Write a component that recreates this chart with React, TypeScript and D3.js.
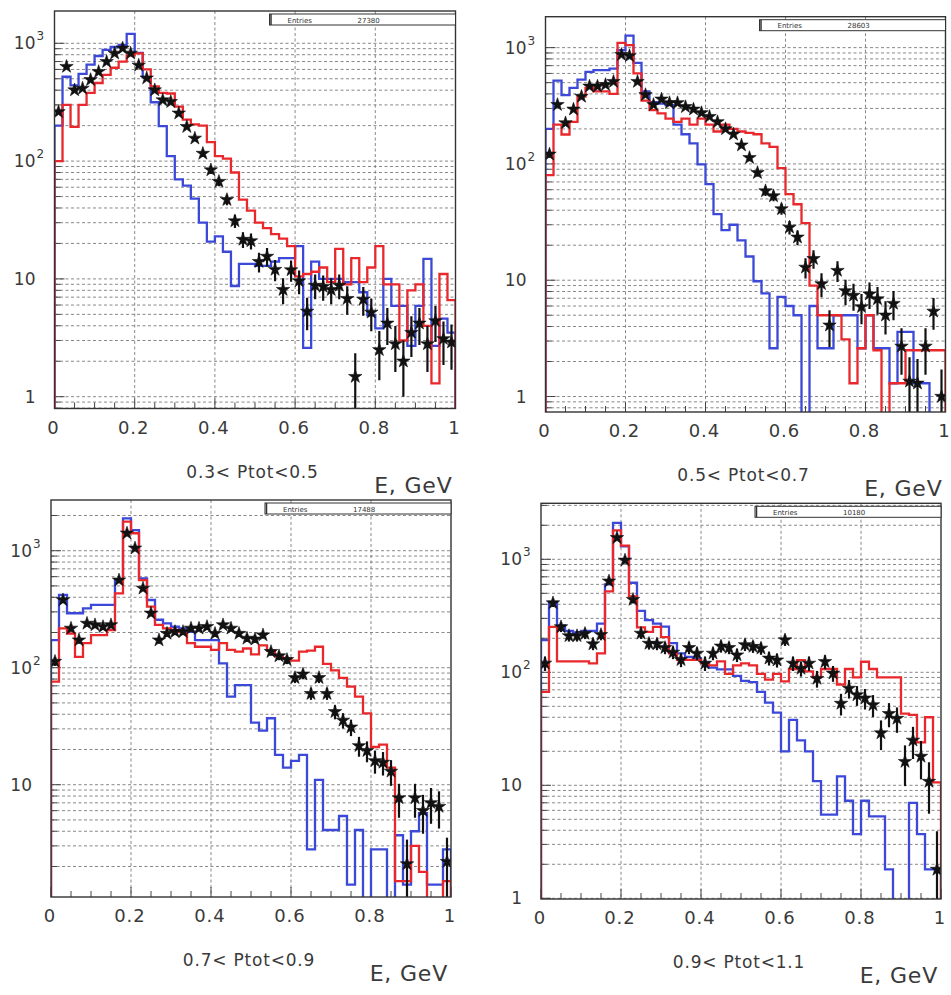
import React from "react";
import * as d3 from "d3";

// ---------------- DATA ----------------
const BIN_WIDTH = 0.02;
const N_BINS = 50;

const PANEL_TITLES = ["0.3< Ptot<0.5", "0.5< Ptot<0.7", "0.7< Ptot<0.9", "0.9< Ptot<1.1"];
const ENTRIES = ["27380", "28603", "17488", "10180"];
const X_TICK_VALUES = [0, 0.2, 0.4, 0.6, 0.8, 1];
const X_TICK_LABELS = ["0", "0.2", "0.4", "0.6", "0.8", "1"];
const Y_DECADES = [1, 10, 100, 1000];
const AXIS_TITLE = "E, GeV";
const ERR_WEIGHT = [0.5, 0.5, 0.8, 2.5];

// Panel 1 : 0.3 < Ptot < 0.5
const P1_BLUE = [200, 520, 440, 550, 660, 780, 880, 930, 970, 1200, 830, 515, 316, 198, 110, 70, 62, 48, 30, 20.7,
  23, 17, 8.7, 13.4, 13.4, 12.9, 12.9, 14, 15, 15, 19, 2.6, 14, 10, 10, 10, 9.4, 9.4, 7.7, 4.9,
  3.8, 10, 5.9, 5.9, 2.7, 5.9, 14.8, 2.7, 4.6, 3.5];
const P1_RED = [100, 300, 195, 300, 380, 460, 540, 620, 700, 790, 820, 600, 430, 380, 375, 290, 225, 205, 200, 145,
  110, 105, 80, 47, 38, 30, 27, 24, 22, 19, 10.5, 11, 11.5, 12.5, 9.4, 18, 9, 15, 9.4, 12.5,
  19, 9, 9, 3, 8, 9, 4, 1.3, 11, 6.6];
const P1_STARS = [262, 634, 401, 414, 490, 573, 698, 822, 907, 822, 650, 506, 401, 330, 319, 255, 196, 156, 116, 84,
  67, 47, 31, 21.6, 21, 14, 15.5, 12, 8.1, 11.9, 9.6, 5.3, 8.8, 8.6, 8.1, 8.8, 6.8, 1.48, 6.7, 5.2,
  2.5, 4.2, 2.8, 2.0, 3.5, 4.2, 2.8, 4.4, 3.1, 2.9];

// Panel 2 : 0.5 < Ptot < 0.7
const P2_BLUE = [200, 520, 390, 450, 530, 620, 640, 640, 660, 950, 1270, 740, 420, 340, 330, 320, 218, 180, 150, 99,
  67, 37, 27, 30, 22, 16, 9.8, 7.7, 2.6, 7.2, 6, 5, 0, 6, 2.6, 2.6, 5, 5, 5, 2.6,
  5, 2.6, 2.6, 1.3, 3.6, 3.6, 1.3, 1.3, 0, 0];
const P2_RED = [80, 218, 179, 230, 380, 450, 420, 420, 400, 1100, 1050, 600, 350, 290, 272, 245, 230, 245, 218, 245,
  218, 190, 218, 200, 190, 185, 180, 150, 140, 92, 55, 45, 31, 9, 5, 5, 5, 3.1, 1.3, 2.6,
  5, 2.5, 0, 1.3, 1.3, 2.5, 2.5, 2.5, 2.5, 2.5];
const P2_STARS = [121, 323, 225, 295, 380, 465, 465, 480, 510, 870, 850, 510, 393, 323, 360, 335, 335, 310, 295, 275,
  255, 230, 200, 180, 145, 113, 84, 58.5, 53, 41, 28.5, 23.4, 12.9, 15.3, 9.3, 4.1, 12.1, 8.1, 7.4, 5.9,
  7.6, 6.9, 5.0, 6.3, 2.7, 1.35, 1.3, 2.7, 5.4, 1.0];

// Panel 3 : 0.7 < Ptot < 0.9
const P3_BLUE = [172, 419, 292, 292, 322, 344, 344, 344, 570, 1890, 1500, 580, 379, 257, 239, 224, 217, 203, 172, 172,
  172, 109, 56.6, 71, 71, 34, 29, 37, 18, 14, 16, 18, 2.8, 11, 4.1, 4.1, 5.4, 1.4, 4.1, 0,
  2.8, 2.8, 0, 3.7, 1.4, 4, 5.7, 1.4, 1.4, 2.8];
const P3_RED = [76, 217, 196, 124, 162, 190, 190, 210, 432, 1770, 1410, 560, 333, 232, 217, 210, 203, 162, 151, 151,
  142, 162, 142, 137, 146, 130, 155, 140, 125, 120, 115, 137, 140, 151, 108, 95, 82, 69, 56.5, 40.7,
  21, 22, 14, 1.5, 1.5, 3, 1.8, 0, 0, 1.5];
const P3_STARS = [113, 379, 217, 172, 239, 232, 224, 232, 560, 1410, 1050, 477, 292, 172, 196, 203, 203, 217, 217, 224,
  196, 232, 217, 196, 178, 175, 190, 137, 126, 117, 82, 88, 60, 82, 60, 42, 35.5, 31, 21.5, 19.5,
  16, 15.5, 13, 7.7, 2.1, 7.7, 6, 7, 6.5, 2.2];

// Panel 4 : 0.9 < Ptot < 1.1
const P4_BLUE = [193, 420, 260, 232, 225, 232, 232, 270, 600, 2100, 1300, 620, 350, 290, 270, 254, 181, 147, 137, 133,
  122, 110, 106, 106, 93, 84, 82, 67, 54, 44, 20, 38, 25, 20, 10.9, 5.5, 5.5, 12, 7.3, 3.7,
  7.3, 5.3, 5.3, 1.8, 0, 0, 7, 3.7, 1.8, 1.8];
const P4_RED = [67, 252, 125, 125, 125, 125, 120, 147, 520, 1800, 1320, 470, 250, 228, 252, 205, 147, 129, 129, 129,
  120, 115, 125, 97, 115, 120, 115, 97, 86, 97, 83, 107, 128, 102, 90, 107, 107, 78, 107, 90,
  124, 107, 90, 90, 90, 43, 42, 24, 40, 10.6];
const P4_STARS = [120, 410, 252, 210, 210, 220, 178, 215, 640, 1550, 980, 440, 221, 180, 178, 165, 150, 129, 165, 147,
  120, 147, 170, 165, 142, 175, 169, 163, 133, 128, 193, 120, 108, 120, 88, 124, 98, 53, 72, 63,
  59, 51.5, 29, 43, 39, 16.2, 25, 18, 10.8, 1.8];

const BLUE = [P1_BLUE, P2_BLUE, P3_BLUE, P4_BLUE];
const RED = [P1_RED, P2_RED, P3_RED, P4_RED];
const STARS = [P1_STARS, P2_STARS, P3_STARS, P4_STARS];

// ---------------- LAYOUT ----------------
const LAYOUT = [
  { left: 54.5, right: 455.5, top: 11, bottom: 408.5, yMin: 0.794, yMax: 1880 },
  { left: 545.5, right: 945.5, top: 16.7, bottom: 412, yMin: 0.736, yMax: 1845 },
  { left: 51, right: 451, top: 500, bottom: 897, yMin: 1.097, yMax: 2713 },
  { left: 541, right: 941, top: 503.3, bottom: 899, yMin: 0.986, yMax: 3130 },
];

const BLUE_COLOR = "#3b48d8";
const RED_COLOR = "#e8282c";
const TEXT_COLOR = "#3a3a3a";
const FONT = "'DejaVu Sans', Arial, sans-serif";

const starPath = d3.symbol().type(d3.symbolStar).size(56)() as string;

function Panel({ idx }: { idx: number }) {
  const L = LAYOUT[idx];
  const x = d3.scaleLinear().domain([0, 1]).range([L.left, L.right]);
  const y = d3.scaleLog().domain([L.yMin, L.yMax]).range([L.bottom, L.top]);
  const yv = (v: number) => (v > 0 ? y(v) : L.bottom + 30);
  const edges = d3.range(N_BINS + 1).map((i) => i * BIN_WIDTH);
  const centers = d3.range(N_BINS).map((i) => (i + 0.5) * BIN_WIDTH);
  const line = d3.line();

  const histPath = (vals: number[]) => {
    const pts: [number, number][] = [[x(0), L.bottom + 30]];
    vals.forEach((v, i) => {
      pts.push([x(edges[i]), yv(v)]);
      pts.push([x(edges[i + 1]), yv(v)]);
    });
    pts.push([x(1), L.bottom + 30]);
    return line(pts) as string;
  };

  const yTicks = y.ticks().filter((t) => t >= L.yMin && t <= L.yMax);
  const xMinor = x.ticks(20);
  const clipId = `clip${idx}`;
  const w = ERR_WEIGHT[idx];

  const boxRight = L.right;
  const boxLeft = L.right - 186;
  const boxTop = L.top + 3;

  return (
    <g>
      <defs>
        <clipPath id={clipId}>
          <rect x={L.left} y={L.top} width={L.right - L.left} height={L.bottom - L.top} />
        </clipPath>
      </defs>
      <rect x={L.left} y={L.top} width={L.right - L.left} height={L.bottom - L.top} fill="#fff" />
      {/* grid */}
      <g stroke="#7a7a7a" strokeWidth={0.9} strokeDasharray="3 2.5">
        {yTicks.map((t, i) => (
          <line key={"h" + i} x1={L.left} x2={L.right} y1={y(t)} y2={y(t)} />
        ))}
        {X_TICK_VALUES.filter((v) => v > 0 && v < 1).map((v, i) => (
          <line key={"v" + i} x1={x(v)} x2={x(v)} y1={L.top} y2={L.bottom} />
        ))}
      </g>
      {/* ticks */}
      <g stroke="#444" strokeWidth={1}>
        {yTicks.map((t, i) => {
          const major = Y_DECADES.includes(t);
          return <line key={"yt" + i} x1={L.left} x2={L.left + (major ? 10 : 6)} y1={y(t)} y2={y(t)} />;
        })}
        {xMinor.map((t, i) => {
          const major = X_TICK_VALUES.some((v) => Math.abs(v - t) < 1e-6);
          return <line key={"xt" + i} x1={x(t)} x2={x(t)} y1={L.bottom} y2={L.bottom - (major ? 10 : 6)} />;
        })}
      </g>
      {/* histograms */}
      <g clipPath={`url(#${clipId})`} fill="none" strokeWidth={2.3} strokeLinejoin="miter">
        <path d={histPath(BLUE[idx])} stroke={BLUE_COLOR} />
        <path d={histPath(RED[idx])} stroke={RED_COLOR} />
        {/* error bars and stars */}
        {STARS[idx].map((v, i) => {
          const err = Math.sqrt(v * w);
          const lo = v - err;
          return (
            <g key={"s" + i}>
              <line
                x1={x(centers[i])}
                x2={x(centers[i])}
                y1={y(v + err)}
                y2={lo > 0 ? y(lo) : L.bottom + 30}
                stroke="#111"
                strokeWidth={2.2}
              />
              <path d={starPath} transform={`translate(${x(centers[i])},${y(v)})`} fill="#111" stroke="#111" strokeWidth={0.6} />
            </g>
          );
        })}
      </g>
      {/* frame */}
      <rect x={L.left} y={L.top} width={L.right - L.left} height={L.bottom - L.top} fill="none" stroke="#333" strokeWidth={1.4} />
      {/* entries box */}
      <rect x={boxLeft} y={boxTop} width={boxRight - boxLeft} height={11} fill="#fff" stroke="#333" strokeWidth={1} />
      <line x1={boxLeft + 1.5} x2={boxLeft + 1.5} y1={boxTop} y2={boxTop + 11} stroke="#333" strokeWidth={1.5} />
      <text x={boxLeft + 18} y={boxTop + 8.5} fontSize={7} fontFamily={FONT} fill="#333">Entries</text>
      <text x={boxLeft + 88} y={boxTop + 8.5} fontSize={7} fontFamily={FONT} fill="#333">{ENTRIES[idx]}</text>
      {/* x tick labels */}
      {X_TICK_VALUES.map((v, i) => (
        <text
          key={"xl" + i}
          x={x(v) - 1}
          y={L.bottom + 25}
          textAnchor="middle"
          fontSize={18}
          letterSpacing={1}
          fontFamily={FONT}
          fill={TEXT_COLOR}
        >
          {X_TICK_LABELS[i]}
        </text>
      ))}
      {/* y tick labels */}
      {Y_DECADES.filter((d) => d >= L.yMin && d <= L.yMax).map((d, i) => {
        const exp = Math.round(Math.log10(d));
        const base = exp === 0 ? "1" : "10";
        const yy = y(d);
        return (
          <g key={"yl" + i} fontFamily={FONT} fill={TEXT_COLOR}>
            <text x={L.left - 19} y={yy + 6} textAnchor="end" fontSize={17}>{base}</text>
            {exp >= 2 && (
              <text x={L.left - 18} y={yy - 3} textAnchor="start" fontSize={12}>{String(exp)}</text>
            )}
          </g>
        );
      })}
      {/* panel title and axis title */}
      <text x={L.left + 198} y={L.bottom + 69} textAnchor="middle" fontSize={17} letterSpacing={0.8} fontFamily={FONT} fill={TEXT_COLOR}>
        {PANEL_TITLES[idx]}
      </text>
      <text x={L.right - 3} y={L.bottom + 84} textAnchor="end" fontSize={22} letterSpacing={0.8} fontFamily={FONT} fill={TEXT_COLOR}>
        {AXIS_TITLE}
      </text>
    </g>
  );
}

export default function App() {
  return (
    <svg
      width={951}
      height={995}
      viewBox="0 0 951 995"
      style={{ position: "absolute", left: 0, top: 0, background: "#fff" }}
    >
      <rect x={0} y={0} width={951} height={995} fill="#fff" />
      {[0, 1, 2, 3].map((i) => (
        <Panel key={i} idx={i} />
      ))}
    </svg>
  );
}
